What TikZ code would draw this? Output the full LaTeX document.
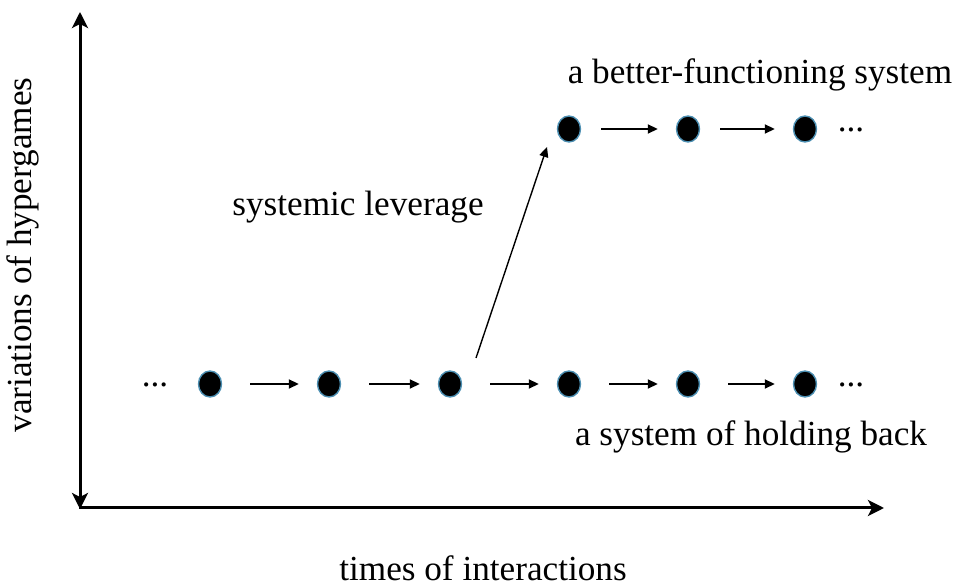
\documentclass[tikz,border=0pt]{standalone}
\usepackage{fontspec}
\setmainfont{Liberation Serif}
\usetikzlibrary{arrows.meta,positioning,shapes.geometric}

\tikzset{
  state/.style={ellipse,fill=black,draw=blue!35!cyan!40!gray,line width=0.7pt,minimum width=11.5pt,minimum height=13pt,inner sep=0pt},
  step arrow/.style={-{Triangle[length=5pt,width=4.5pt]},line width=0.9pt},
  axis/.style={line width=1.5pt,-{Stealth[length=8pt,width=8pt,inset=2pt]}},
  lbl/.style={font=\fontsize{17.6}{20}\selectfont},
}

\begin{document}
\begin{tikzpicture}[x=0.5pt,y=-0.5pt]
\useasboundingbox (0,0) rectangle (966,587);
% axes
\coordinate (o) at (80,508);
\coordinate (ytop) at (80,12);
\coordinate (ybot) at (80,509);
\coordinate (xend) at (884,508);
\draw[axis] (80,500) -- (ytop);
\draw[axis] (80,490) -- (ybot);
\draw[line width=1.5pt,-{Stealth[length=8pt,width=8pt,inset=2pt]}] (79.3,508) -- (xend);
% the two rows of states
\foreach \i/\x in {1/210,2/329,3/450,4/569,5/688,6/805} {\node[state] (b\i) at (\x,384) {};}
\foreach \i/\x in {1/569,2/688,3/805} {\node[state] (t\i) at (\x,129) {};}
\node[lbl,anchor=base] (bdots0) at (155,387) {...};
\node[lbl,anchor=base] (bdots) at (851,387) {...};
\node[lbl,anchor=base] (tdots) at (851,132) {...};
% steps
\foreach \a/\b in {1/2,2/3,3/4,4/5,5/6}
  {\draw[step arrow] ([xshift=14pt]b\a.east) -- ([xshift=-9pt]b\b.west);}
\foreach \a/\b in {1/2,2/3}
  {\draw[step arrow] ([xshift=10pt]t\a.east) -- ([xshift=-9pt]t\b.west);}
\draw[-{Triangle[length=5pt,width=4.5pt]},line width=0.7pt] ([shift={(26,-26)}]b3.center) -- ([shift={(-22,18)}]t1.center);
% labels
\node[lbl] (better) at (760,75) {a better-functioning system};
\node[lbl] (lever) at (358,207) {systemic leverage};
\node[lbl] (hold) at (751,437) {a system of holding back};
\node[lbl] (xlab) at (483,568) {times of interactions};
\node[lbl,rotate=90] (ylab) at (23,255) {variations of hypergames};
\end{tikzpicture}
\end{document}
